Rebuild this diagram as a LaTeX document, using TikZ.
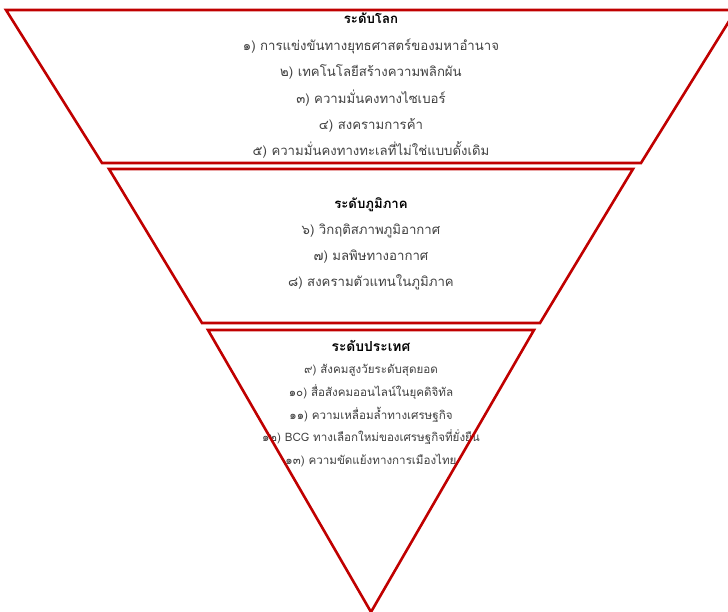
\documentclass[tikz,border=0pt]{standalone}
\usepackage{fontspec}
\newfontfamily\thaifont[Script=Thai]{Loma}
\usetikzlibrary{positioning}
\definecolor{levelred}{HTML}{C00000}
\definecolor{itemgray}{HTML}{404040}

\begin{document}
\begin{tikzpicture}[x=1pt, y=-1pt,
  level/.style={draw=levelred, line width=2.6pt, line join=miter},
  items/.style={align=center, text=itemgray, inner sep=0pt},
  head/.style={text=black, font=\bfseries}]
\useasboundingbox (0,0) rectangle (728,612);
\clip (0,0) rectangle (728,612);
% text of the three levels
\node[items, font=\thaifont\fontsize{13.2}{26.4}\selectfont] (global) at (371,86) {{\bfseries\color{black}ระดับโลก}\\
  ๑) การแข่งขันทางยุทธศาสตร์ของมหาอำนาจ\\
  ๒) เทคโนโลยีสร้างความพลิกผัน\\
  ๓) ความมั่นคงทางไซเบอร์\\
  ๔) สงครามการค้า\\
  ๕) ความมั่นคงทางทะเลที่ไม่ใช่แบบดั้งเดิม};
\node[items, font=\thaifont\fontsize{13.2}{26}\selectfont] (regional) at (371,244) {{\bfseries\color{black}ระดับภูมิภาค}\\
  ๖) วิกฤติสภาพภูมิอากาศ\\
  ๗) มลพิษทางอากาศ\\
  ๘) สงครามตัวแทนในภูมิภาค};
\node[items, font=\thaifont\fontsize{11.6}{22.6}\selectfont] (national) at (371,403.5) {{\bfseries\color{black}\fontsize{13.8}{22.6}\selectfont ระดับประเทศ}\\
  ๙) สังคมสูงวัยระดับสุดยอด\\
  ๑๐) สื่อสังคมออนไลน์ในยุคดิจิทัล\\
  ๑๑) ความเหลื่อมล้ำทางเศรษฐกิจ\\
  ๑๒) BCG ทางเลือกใหม่ของเศรษฐกิจที่ยั่งยืน\\
  ๑๓) ความขัดแย้งทางการเมืองไทย};
% the inverted pyramid
\draw[level] (6,10) -- (736,10) -- (641,163) -- (102,163) -- cycle;
\draw[level] (109,169) -- (633,169) -- (540,323) -- (202,323) -- cycle;
\draw[level] (208,330) -- (534,330) -- (371,612) -- cycle;
\end{tikzpicture}
\end{document}
